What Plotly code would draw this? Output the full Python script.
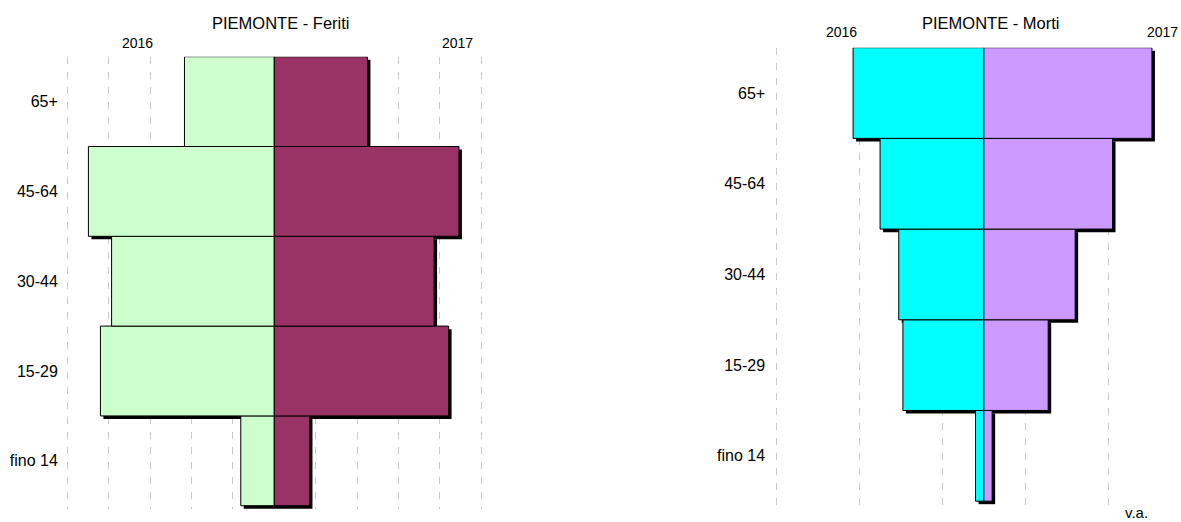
import plotly.graph_objects as go

# ---- data ----
categories = ["fino 14", "15-29", "30-44", "45-64", "65+"]
feriti_2016 = [810, 4200, 3930, 4490, 2170]
feriti_2017 = [850, 4210, 3860, 4460, 2250]
morti_2016 = [4, 39, 41, 50, 63]
morti_2017 = [4, 31, 44, 62, 81]
year_labels = ["2016", "2017"]
titles = ["PIEMONTE - Feriti", "PIEMONTE - Morti"]

W, H = 1181, 522
FONT = "Liberation Sans, Arial, sans-serif"
GRID = "#c8c8c8"

ypos = list(range(len(categories)))

fig = go.Figure()


def add_pyramid(v16, v17, c16, c17, xa, ya, dx, dy):
    # shadow (drawn first, behind)
    fig.add_trace(go.Bar(
        y=ypos, x=[a + b for a, b in zip(v16, v17)],
        base=[-a + dx for a in v16], orientation="h",
        width=1, offset=-0.5 - dy,
        marker=dict(color="black", line=dict(width=0)),
        xaxis=xa, yaxis=ya, showlegend=False, hoverinfo="skip"))
    fig.add_trace(go.Bar(
        y=ypos, x=[-a for a in v16], orientation="h", width=1,
        marker=dict(color=c16, line=dict(color="black", width=1)),
        xaxis=xa, yaxis=ya, showlegend=False, name=year_labels[0]))
    fig.add_trace(go.Bar(
        y=ypos, x=v17, orientation="h", width=1,
        marker=dict(color=c17, line=dict(color="black", width=1)),
        xaxis=xa, yaxis=ya, showlegend=False, name=year_labels[1]))


add_pyramid(feriti_2016, feriti_2017, "#CCFFCC", "#993366", "x", "y", 72, 0.034)
add_pyramid(morti_2016, morti_2017, "#00FFFF", "#CC99FF", "x2", "y2", 1.45, 0.034)

xcommon = dict(showticklabels=False, ticks="", showgrid=True, gridcolor=GRID,
               gridwidth=1, griddash="7px,8px", zeroline=False, showline=False,
               fixedrange=True)
ycommon = dict(tickmode="array", tickvals=ypos, ticktext=categories,
               showgrid=False, zeroline=False, showline=False, ticks="",
               ticklabelstandoff=6,
               tickfont=dict(family=FONT, size=16, color="black"),
               range=[-0.54, 4.5], fixedrange=True)

L_PX = 41.4 / 1000.0      # px per unit, left chart
R_PX = 83.0 / 40.0        # px per unit, right chart
l_lo, l_hi = -5060, 5060
r_lo, r_hi = -102, 95

fig.update_layout(
    width=W, height=H,
    margin=dict(l=0, r=0, t=0, b=0),
    paper_bgcolor="white", plot_bgcolor="white",
    barmode="overlay",
    font=dict(family=FONT, color="black"),
    xaxis=dict(domain=[(274.3 + l_lo * L_PX) / W, (274.3 + l_hi * L_PX) / W],
               range=[l_lo, l_hi],
               tickmode="array", tickvals=[-5000, -4000, -3000, -2000, -1000, 0,
                                            1000, 2000, 3000, 4000, 5000],
               anchor="y", **xcommon),
    yaxis=dict(domain=[1 - 509.3 / H, 1 - 56.7 / H], anchor="x", **ycommon),
    xaxis2=dict(domain=[(983.8 + r_lo * R_PX) / W, 1.0], range=[r_lo, r_hi],
                tickmode="array", tickvals=[-100, -60, -20, 20, 60, 100],
                anchor="y2", **xcommon),
    yaxis2=dict(domain=[1 - 504.8 / H, 1 - 47.7 / H], anchor="x2", **ycommon),
)


def ann(text, x, y, size, xanchor="center"):
    fig.add_annotation(text=text, x=x / W, y=1 - y / H, xref="paper", yref="paper",
                       showarrow=False, xanchor=xanchor, yanchor="middle",
                       font=dict(family=FONT, size=size, color="black"))


ann(titles[0], 281, 23, 16.5)
ann(year_labels[0], 137, 43, 14)
ann(year_labels[1], 457.5, 43, 14)
ann(titles[1], 991, 23, 16.5)
ann(year_labels[0], 841, 32, 14)
ann(year_labels[1], 1180, 32, 14, xanchor="right")
ann("v.a.", 1136, 512, 15)

fig.write_html("out.html",
               config={"displayModeBar": False, "staticPlot": True},
               post_script="document.body.style.margin='0px';document.body.style.overflow='hidden';")
